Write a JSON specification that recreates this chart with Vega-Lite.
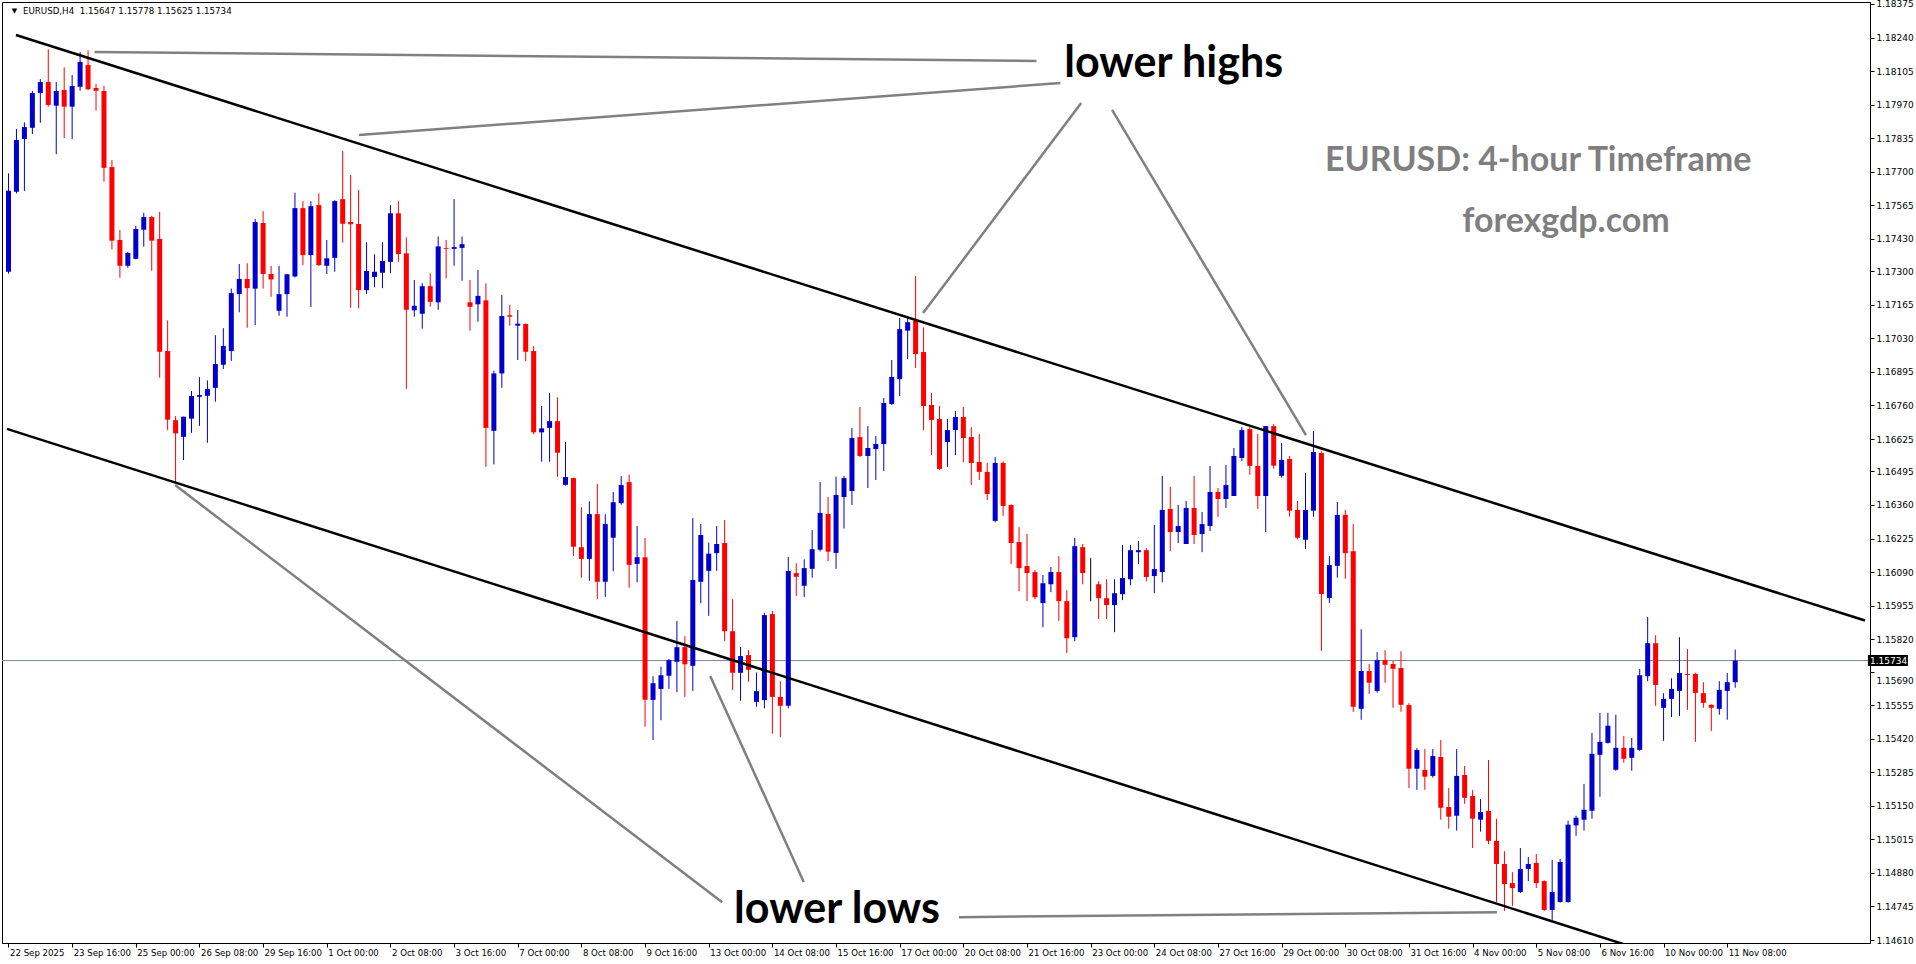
{
"$schema": "https://vega.github.io/schema/vega-lite/v6.json",
"width": 1868, "height": 941,
"autosize": {"type": "none"},
"padding": {"left": 2, "top": 2, "right": 46, "bottom": 21},
"background": "#ffffff",
"config": {"view": {"stroke": "#000000", "strokeWidth": 1}, "axis": {"labelOverlap": false, "labelBound": false, "labelFlush": false, "grid": false, "title": null, "tickCount": 60}},
"datasets": {
"candles": [
{"i":0,"o":1.17298,"h":1.17694,"l":1.17290,"c":1.17624},
{"i":1,"o":1.17620,"h":1.17872,"l":1.17613,"c":1.17828},
{"i":2,"o":1.17832,"h":1.17899,"l":1.17623,"c":1.17880},
{"i":3,"o":1.17877,"h":1.18025,"l":1.17852,"c":1.18017},
{"i":4,"o":1.18017,"h":1.18073,"l":1.17897,"c":1.18061},
{"i":5,"o":1.18061,"h":1.18193,"l":1.17962,"c":1.17969},
{"i":6,"o":1.17966,"h":1.18061,"l":1.17771,"c":1.18025},
{"i":7,"o":1.18029,"h":1.18120,"l":1.17836,"c":1.17962},
{"i":8,"o":1.17962,"h":1.18089,"l":1.17832,"c":1.18045},
{"i":9,"o":1.18042,"h":1.18181,"l":1.18026,"c":1.18142},
{"i":10,"o":1.18130,"h":1.18189,"l":1.18029,"c":1.18032},
{"i":11,"o":1.18037,"h":1.18053,"l":1.17946,"c":1.18026},
{"i":12,"o":1.18025,"h":1.18045,"l":1.17660,"c":1.17716},
{"i":13,"o":1.17719,"h":1.17747,"l":1.17388,"c":1.17423},
{"i":14,"o":1.17426,"h":1.17466,"l":1.17274,"c":1.17322},
{"i":15,"o":1.17322,"h":1.17378,"l":1.17314,"c":1.17373},
{"i":16,"o":1.17350,"h":1.17483,"l":1.17348,"c":1.17470},
{"i":17,"o":1.17467,"h":1.17535,"l":1.17399,"c":1.17518},
{"i":18,"o":1.17518,"h":1.17523,"l":1.17302,"c":1.17423},
{"i":19,"o":1.17430,"h":1.17539,"l":1.16872,"c":1.16976},
{"i":20,"o":1.16979,"h":1.17102,"l":1.16661,"c":1.16703},
{"i":21,"o":1.16701,"h":1.16717,"l":1.16448,"c":1.16648},
{"i":22,"o":1.16634,"h":1.16715,"l":1.16540,"c":1.16715},
{"i":23,"o":1.16707,"h":1.16818,"l":1.16650,"c":1.16798},
{"i":24,"o":1.16795,"h":1.16874,"l":1.16678,"c":1.16802},
{"i":25,"o":1.16799,"h":1.16861,"l":1.16610,"c":1.16827},
{"i":26,"o":1.16831,"h":1.17043,"l":1.16775,"c":1.16927},
{"i":27,"o":1.16924,"h":1.17071,"l":1.16907,"c":1.16999},
{"i":28,"o":1.16979,"h":1.17230,"l":1.16939,"c":1.17212},
{"i":29,"o":1.17208,"h":1.17329,"l":1.17135,"c":1.17269},
{"i":30,"o":1.17269,"h":1.17332,"l":1.17073,"c":1.17232},
{"i":31,"o":1.17230,"h":1.17510,"l":1.17084,"c":1.17498},
{"i":32,"o":1.17494,"h":1.17542,"l":1.17230,"c":1.17289},
{"i":33,"o":1.17289,"h":1.17322,"l":1.17197,"c":1.17267},
{"i":34,"o":1.17141,"h":1.17322,"l":1.17121,"c":1.17208},
{"i":35,"o":1.17208,"h":1.17288,"l":1.17117,"c":1.17288},
{"i":36,"o":1.17279,"h":1.17616,"l":1.17275,"c":1.17554},
{"i":37,"o":1.17554,"h":1.17582,"l":1.17325,"c":1.17365},
{"i":38,"o":1.17365,"h":1.17582,"l":1.17156,"c":1.17562},
{"i":39,"o":1.17566,"h":1.17613,"l":1.17321,"c":1.17325},
{"i":40,"o":1.17322,"h":1.17426,"l":1.17289,"c":1.17352},
{"i":41,"o":1.17354,"h":1.17586,"l":1.17298,"c":1.17582},
{"i":42,"o":1.17590,"h":1.17784,"l":1.17415,"c":1.17491},
{"i":43,"o":1.17498,"h":1.17687,"l":1.17153,"c":1.17489},
{"i":44,"o":1.17490,"h":1.17627,"l":1.17151,"c":1.17224},
{"i":45,"o":1.17224,"h":1.17417,"l":1.17209,"c":1.17301},
{"i":46,"o":1.17277,"h":1.17368,"l":1.17235,"c":1.17298},
{"i":47,"o":1.17294,"h":1.17417,"l":1.17232,"c":1.17341},
{"i":48,"o":1.17338,"h":1.17566,"l":1.17292,"c":1.17533},
{"i":49,"o":1.17533,"h":1.17582,"l":1.17338,"c":1.17369},
{"i":50,"o":1.17372,"h":1.17436,"l":1.16827,"c":1.17145},
{"i":51,"o":1.17143,"h":1.17265,"l":1.17117,"c":1.17161},
{"i":52,"o":1.17129,"h":1.17252,"l":1.17069,"c":1.17240},
{"i":53,"o":1.17240,"h":1.17292,"l":1.17157,"c":1.17177},
{"i":54,"o":1.17175,"h":1.17440,"l":1.17145,"c":1.17400},
{"i":55,"o":1.17393,"h":1.17426,"l":1.17271,"c":1.17390},
{"i":56,"o":1.17390,"h":1.17590,"l":1.17322,"c":1.17397},
{"i":57,"o":1.17394,"h":1.17440,"l":1.17262,"c":1.17409},
{"i":58,"o":1.17175,"h":1.17265,"l":1.17061,"c":1.17157},
{"i":59,"o":1.17167,"h":1.17305,"l":1.17097,"c":1.17201},
{"i":60,"o":1.17183,"h":1.17251,"l":1.16513,"c":1.16670},
{"i":61,"o":1.16658,"h":1.16900,"l":1.16523,"c":1.16889},
{"i":62,"o":1.16889,"h":1.17205,"l":1.16831,"c":1.17120},
{"i":63,"o":1.17123,"h":1.17164,"l":1.17081,"c":1.17117},
{"i":64,"o":1.17081,"h":1.17144,"l":1.16943,"c":1.17089},
{"i":65,"o":1.17088,"h":1.17090,"l":1.16939,"c":1.16976},
{"i":66,"o":1.16979,"h":1.16999,"l":1.16644,"c":1.16652},
{"i":67,"o":1.16652,"h":1.16758,"l":1.16534,"c":1.16668},
{"i":68,"o":1.16670,"h":1.16810,"l":1.16534,"c":1.16697},
{"i":69,"o":1.16697,"h":1.16793,"l":1.16473,"c":1.16570},
{"i":70,"o":1.16441,"h":1.16613,"l":1.16438,"c":1.16472},
{"i":71,"o":1.16468,"h":1.16470,"l":1.16155,"c":1.16192},
{"i":72,"o":1.16190,"h":1.16351,"l":1.16067,"c":1.16143},
{"i":73,"o":1.16143,"h":1.16375,"l":1.16055,"c":1.16323},
{"i":74,"o":1.16323,"h":1.16444,"l":1.15982,"c":1.16051},
{"i":75,"o":1.16051,"h":1.16323,"l":1.15990,"c":1.16283},
{"i":76,"o":1.16228,"h":1.16412,"l":1.16093,"c":1.16371},
{"i":77,"o":1.16367,"h":1.16476,"l":1.16361,"c":1.16440},
{"i":78,"o":1.16452,"h":1.16482,"l":1.16027,"c":1.16119},
{"i":79,"o":1.16123,"h":1.16275,"l":1.16049,"c":1.16150},
{"i":80,"o":1.16150,"h":1.16227,"l":1.15468,"c":1.15576},
{"i":81,"o":1.15576,"h":1.15671,"l":1.15415,"c":1.15643},
{"i":82,"o":1.15620,"h":1.15709,"l":1.15494,"c":1.15675},
{"i":83,"o":1.15673,"h":1.15740,"l":1.15620,"c":1.15736},
{"i":84,"o":1.15729,"h":1.15893,"l":1.15607,"c":1.15788},
{"i":85,"o":1.15788,"h":1.15832,"l":1.15588,"c":1.15719},
{"i":86,"o":1.15713,"h":1.16307,"l":1.15612,"c":1.16058},
{"i":87,"o":1.16051,"h":1.16283,"l":1.15965,"c":1.16239},
{"i":88,"o":1.16095,"h":1.16209,"l":1.15914,"c":1.16164},
{"i":89,"o":1.16166,"h":1.16275,"l":1.16095,"c":1.16203},
{"i":90,"o":1.16207,"h":1.16299,"l":1.15812,"c":1.15852},
{"i":91,"o":1.15852,"h":1.15981,"l":1.15615,"c":1.15685},
{"i":92,"o":1.15685,"h":1.15789,"l":1.15572,"c":1.15752},
{"i":93,"o":1.15756,"h":1.15776,"l":1.15649,"c":1.15697},
{"i":94,"o":1.15568,"h":1.15686,"l":1.15548,"c":1.15611},
{"i":95,"o":1.15575,"h":1.15926,"l":1.15542,"c":1.15917},
{"i":96,"o":1.15921,"h":1.15934,"l":1.15440,"c":1.15588},
{"i":97,"o":1.15588,"h":1.15651,"l":1.15426,"c":1.15552},
{"i":98,"o":1.15552,"h":1.16151,"l":1.15542,"c":1.16094},
{"i":99,"o":1.16086,"h":1.16125,"l":1.15994,"c":1.16071},
{"i":100,"o":1.16035,"h":1.16141,"l":1.15990,"c":1.16106},
{"i":101,"o":1.16103,"h":1.16259,"l":1.16067,"c":1.16182},
{"i":102,"o":1.16180,"h":1.16452,"l":1.16173,"c":1.16328},
{"i":103,"o":1.16324,"h":1.16392,"l":1.16134,"c":1.16172},
{"i":104,"o":1.16167,"h":1.16474,"l":1.16103,"c":1.16400},
{"i":105,"o":1.16392,"h":1.16477,"l":1.16265,"c":1.16468},
{"i":106,"o":1.16416,"h":1.16669,"l":1.16360,"c":1.16629},
{"i":107,"o":1.16633,"h":1.16754,"l":1.16553,"c":1.16557},
{"i":108,"o":1.16557,"h":1.16677,"l":1.16428,"c":1.16589},
{"i":109,"o":1.16585,"h":1.16637,"l":1.16460,"c":1.16605},
{"i":110,"o":1.16605,"h":1.16790,"l":1.16497,"c":1.16770},
{"i":111,"o":1.16766,"h":1.16943,"l":1.16762,"c":1.16875},
{"i":112,"o":1.16866,"h":1.17112,"l":1.16798,"c":1.17067},
{"i":113,"o":1.17061,"h":1.17120,"l":1.16947,"c":1.17095},
{"i":114,"o":1.17100,"h":1.17281,"l":1.16911,"c":1.16967},
{"i":115,"o":1.16975,"h":1.17074,"l":1.16661,"c":1.16758},
{"i":116,"o":1.16762,"h":1.16810,"l":1.16561,"c":1.16702},
{"i":117,"o":1.16706,"h":1.16758,"l":1.16501,"c":1.16505},
{"i":118,"o":1.16613,"h":1.16706,"l":1.16513,"c":1.16661},
{"i":119,"o":1.16661,"h":1.16738,"l":1.16561,"c":1.16714},
{"i":120,"o":1.16714,"h":1.16754,"l":1.16532,"c":1.16629},
{"i":121,"o":1.16633,"h":1.16673,"l":1.16440,"c":1.16529},
{"i":122,"o":1.16533,"h":1.16645,"l":1.16460,"c":1.16493},
{"i":123,"o":1.16493,"h":1.16529,"l":1.16380,"c":1.16404},
{"i":124,"o":1.16296,"h":1.16553,"l":1.16290,"c":1.16529},
{"i":125,"o":1.16529,"h":1.16535,"l":1.16316,"c":1.16356},
{"i":126,"o":1.16360,"h":1.16362,"l":1.16122,"c":1.16207},
{"i":127,"o":1.16211,"h":1.16271,"l":1.16013,"c":1.16106},
{"i":128,"o":1.16114,"h":1.16243,"l":1.15973,"c":1.16086},
{"i":129,"o":1.16090,"h":1.16098,"l":1.15981,"c":1.15989},
{"i":130,"o":1.15965,"h":1.16078,"l":1.15868,"c":1.16045},
{"i":131,"o":1.16041,"h":1.16110,"l":1.16009,"c":1.16090},
{"i":132,"o":1.16090,"h":1.16154,"l":1.15893,"c":1.15973},
{"i":133,"o":1.15973,"h":1.16017,"l":1.15764,"c":1.15824},
{"i":134,"o":1.15828,"h":1.16227,"l":1.15812,"c":1.16194},
{"i":135,"o":1.16190,"h":1.16203,"l":1.16041,"c":1.16086},
{"i":136,"o":1.16037,"h":1.16146,"l":1.15973,"c":1.16037},
{"i":137,"o":1.16041,"h":1.16053,"l":1.15901,"c":1.15985},
{"i":138,"o":1.15985,"h":1.16061,"l":1.15901,"c":1.15957},
{"i":139,"o":1.15957,"h":1.16061,"l":1.15848,"c":1.16005},
{"i":140,"o":1.16001,"h":1.16199,"l":1.15977,"c":1.16066},
{"i":141,"o":1.16061,"h":1.16199,"l":1.16037,"c":1.16178},
{"i":142,"o":1.16170,"h":1.16215,"l":1.16122,"c":1.16178},
{"i":143,"o":1.16178,"h":1.16186,"l":1.16053,"c":1.16070},
{"i":144,"o":1.16074,"h":1.16279,"l":1.16005,"c":1.16102},
{"i":145,"o":1.16090,"h":1.16477,"l":1.16049,"c":1.16340},
{"i":146,"o":1.16344,"h":1.16432,"l":1.16174,"c":1.16251},
{"i":147,"o":1.16251,"h":1.16360,"l":1.16207,"c":1.16275},
{"i":148,"o":1.16203,"h":1.16376,"l":1.16203,"c":1.16348},
{"i":149,"o":1.16348,"h":1.16477,"l":1.16203,"c":1.16239},
{"i":150,"o":1.16243,"h":1.16332,"l":1.16170,"c":1.16283},
{"i":151,"o":1.16275,"h":1.16517,"l":1.16255,"c":1.16412},
{"i":152,"o":1.16412,"h":1.16428,"l":1.16312,"c":1.16384},
{"i":153,"o":1.16384,"h":1.16521,"l":1.16348,"c":1.16440},
{"i":154,"o":1.16396,"h":1.16589,"l":1.16396,"c":1.16557},
{"i":155,"o":1.16549,"h":1.16673,"l":1.16537,"c":1.16661},
{"i":156,"o":1.16665,"h":1.16673,"l":1.16481,"c":1.16517},
{"i":157,"o":1.16517,"h":1.16645,"l":1.16344,"c":1.16396},
{"i":158,"o":1.16396,"h":1.16677,"l":1.16251,"c":1.16677},
{"i":159,"o":1.16677,"h":1.16685,"l":1.16506,"c":1.16518},
{"i":160,"o":1.16477,"h":1.16609,"l":1.16470,"c":1.16541},
{"i":161,"o":1.16545,"h":1.16557,"l":1.16313,"c":1.16337},
{"i":162,"o":1.16340,"h":1.16376,"l":1.16222,"c":1.16228},
{"i":163,"o":1.16220,"h":1.16489,"l":1.16183,"c":1.16340},
{"i":164,"o":1.16337,"h":1.16657,"l":1.16313,"c":1.16573},
{"i":165,"o":1.16569,"h":1.16575,"l":1.15773,"c":1.16002},
{"i":166,"o":1.15986,"h":1.16154,"l":1.15966,"c":1.16118},
{"i":167,"o":1.16115,"h":1.16372,"l":1.16067,"c":1.16320},
{"i":168,"o":1.16320,"h":1.16340,"l":1.16063,"c":1.16166},
{"i":169,"o":1.16174,"h":1.16283,"l":1.15528,"c":1.15548},
{"i":170,"o":1.15540,"h":1.15860,"l":1.15496,"c":1.15692},
{"i":171,"o":1.15692,"h":1.15720,"l":1.15600,"c":1.15645},
{"i":172,"o":1.15612,"h":1.15768,"l":1.15605,"c":1.15736},
{"i":173,"o":1.15736,"h":1.15776,"l":1.15645,"c":1.15717},
{"i":174,"o":1.15720,"h":1.15732,"l":1.15544,"c":1.15701},
{"i":175,"o":1.15704,"h":1.15772,"l":1.15528,"c":1.15556},
{"i":176,"o":1.15555,"h":1.15563,"l":1.15221,"c":1.15299},
{"i":177,"o":1.15299,"h":1.15382,"l":1.15214,"c":1.15374},
{"i":178,"o":1.15294,"h":1.15378,"l":1.15214,"c":1.15267},
{"i":179,"o":1.15270,"h":1.15378,"l":1.15263,"c":1.15350},
{"i":180,"o":1.15346,"h":1.15414,"l":1.15094,"c":1.15142},
{"i":181,"o":1.15145,"h":1.15221,"l":1.15058,"c":1.15106},
{"i":182,"o":1.15110,"h":1.15378,"l":1.15050,"c":1.15270},
{"i":183,"o":1.15274,"h":1.15310,"l":1.15158,"c":1.15182},
{"i":184,"o":1.15189,"h":1.15213,"l":1.14980,"c":1.15098},
{"i":185,"o":1.15094,"h":1.15177,"l":1.15046,"c":1.15125},
{"i":186,"o":1.15129,"h":1.15334,"l":1.14996,"c":1.15009},
{"i":187,"o":1.15009,"h":1.15098,"l":1.14763,"c":1.14916},
{"i":188,"o":1.14916,"h":1.14967,"l":1.14727,"c":1.14835},
{"i":189,"o":1.14839,"h":1.14883,"l":1.14747,"c":1.14819},
{"i":190,"o":1.14803,"h":1.14980,"l":1.14799,"c":1.14896},
{"i":191,"o":1.14896,"h":1.14944,"l":1.14847,"c":1.14916},
{"i":192,"o":1.14920,"h":1.14956,"l":1.14819,"c":1.14839},
{"i":193,"o":1.14847,"h":1.14850,"l":1.14727,"c":1.14731},
{"i":194,"o":1.14731,"h":1.14932,"l":1.14691,"c":1.14803},
{"i":195,"o":1.14763,"h":1.14936,"l":1.14760,"c":1.14924},
{"i":196,"o":1.14763,"h":1.15090,"l":1.14760,"c":1.15074},
{"i":197,"o":1.15071,"h":1.15110,"l":1.15029,"c":1.15102},
{"i":198,"o":1.15094,"h":1.15238,"l":1.15050,"c":1.15134},
{"i":199,"o":1.15130,"h":1.15443,"l":1.15098,"c":1.15359},
{"i":200,"o":1.15355,"h":1.15524,"l":1.15186,"c":1.15407},
{"i":201,"o":1.15403,"h":1.15524,"l":1.15400,"c":1.15472},
{"i":202,"o":1.15295,"h":1.15516,"l":1.15290,"c":1.15383},
{"i":203,"o":1.15383,"h":1.15431,"l":1.15323,"c":1.15339},
{"i":204,"o":1.15343,"h":1.15423,"l":1.15291,"c":1.15383},
{"i":205,"o":1.15375,"h":1.15700,"l":1.15371,"c":1.15675},
{"i":206,"o":1.15671,"h":1.15909,"l":1.15651,"c":1.15804},
{"i":207,"o":1.15804,"h":1.15836,"l":1.15552,"c":1.15636},
{"i":208,"o":1.15544,"h":1.15603,"l":1.15411,"c":1.15580},
{"i":209,"o":1.15580,"h":1.15663,"l":1.15507,"c":1.15620},
{"i":210,"o":1.15612,"h":1.15828,"l":1.15511,"c":1.15684},
{"i":211,"o":1.15680,"h":1.15780,"l":1.15536,"c":1.15676},
{"i":212,"o":1.15680,"h":1.15685,"l":1.15407,"c":1.15604},
{"i":213,"o":1.15603,"h":1.15647,"l":1.15544,"c":1.15564},
{"i":214,"o":1.15556,"h":1.15558,"l":1.15451,"c":1.15544},
{"i":215,"o":1.15540,"h":1.15651,"l":1.15516,"c":1.15616},
{"i":216,"o":1.15612,"h":1.15684,"l":1.15496,"c":1.15647},
{"i":217,"o":1.15647,"h":1.15778,"l":1.15625,"c":1.15734}
],
"trend": [
{"id":"upper","i":0.94,"p":1.18250},{"id":"upper","i":233.31,"p":1.15895},
{"id":"lower","i":-0.2,"p":1.16666},{"id":"lower","i":203.3,"p":1.14590}
],
"pointers": [
{"id":"h1","i":10.81,"p":1.18182},{"id":"h1","i":129.19,"p":1.18146},
{"id":"h2","i":44.06,"p":1.17848},{"id":"h2","i":132.19,"p":1.18057},
{"id":"h3","i":114.94,"p":1.17132},{"id":"h3","i":134.81,"p":1.17977},
{"id":"h4","i":138.69,"p":1.17949},{"id":"h4","i":163.06,"p":1.16641},
{"id":"l1","i":20.94,"p":1.16440},{"id":"l1","i":89.69,"p":1.14762},
{"id":"l2","i":88.19,"p":1.15672},{"id":"l2","i":99.94,"p":1.14843},
{"id":"l3","i":119.44,"p":1.14702},{"id":"l3","i":187.06,"p":1.14722}
],
"labels": [
{"t":"lower highs","i":132.69,"p":1.18081},
{"t":"lower lows","i":91.19,"p":1.14678}
],
"brand": [
{"t":"EURUSD: 4-hour Timeframe","i":165.44,"p":1.17703},
{"t":"forexgdp.com","i":182.69,"p":1.17458}
],
"header": [
{"t":"EURUSD,H4\u00a0\u00a01.15647 1.15778 1.15625 1.15734","i":1.81,"p":1.18335}
],
"marker": [{"t":"▼","i":0.75,"p":1.18340}],
"last": [{"price":1.15734}]
},
"layer": [
{
"data": {"name": "last"},
"mark": {"type": "rule", "color": "#778899", "strokeWidth": 1},
"encoding": {
"y": {"field": "price", "type": "quantitative"}
}
},
{
"data": {"name": "candles"},
"mark": {"type": "rule", "strokeWidth": 1},
"encoding": {
"x": {"field": "i", "type": "quantitative", "scale": {"domain": [-0.1875, 233.3125], "nice": false, "zero": false},
"axis": {"title": null, "grid": false, "tickCount": 60, "values": [0,8,16,24,32,40,48,56,64,72,80,88,96,104,112,120,128,136,144,152,160,168,176,184,192,200,208,216],
"labelExpr": "['22 Sep 2025','23 Sep 16:00','25 Sep 00:00','26 Sep 08:00','29 Sep 16:00','1 Oct 00:00','2 Oct 08:00','3 Oct 16:00','7 Oct 00:00','8 Oct 08:00','9 Oct 16:00','13 Oct 00:00','14 Oct 08:00','15 Oct 16:00','17 Oct 00:00','20 Oct 08:00','21 Oct 16:00','23 Oct 00:00','24 Oct 08:00','27 Oct 16:00','29 Oct 00:00','30 Oct 08:00','31 Oct 16:00','4 Nov 00:00','5 Nov 08:00','6 Nov 16:00','10 Nov 00:00','11 Nov 08:00'][round(datum.value/8)]",
"tickSize": 4, "tickColor": "#000000", "domainColor": "#000000", "labelColor": "#000000",
"labelFont": "DejaVu Sans", "labelFontSize": 8.6, "labelPadding": 1, "labelAlign": "left", "labelOffset": 1,
"labelOverlap": false, "labelBound": false, "labelFlush": false}},
"y": {"field": "l", "type": "quantitative", "scale": {"domain": [1.14598, 1.18383], "nice": false, "zero": false},
"axis": {"orient": "right", "title": null, "grid": false, "tickCount": 60,
"values": [1.18375,1.1824,1.18105,1.1797,1.17835,1.177,1.17565,1.1743,1.173,1.17165,1.1703,1.16895,1.1676,1.16625,1.16495,1.1636,1.16225,1.1609,1.15955,1.1582,1.1569,1.15555,1.1542,1.15285,1.1515,1.15015,1.1488,1.14745,1.1461],
"format": ".5f",
"tickSize": 4, "tickColor": "#000000", "domainColor": "#000000", "labelColor": "#000000",
"labelFont": "DejaVu Sans", "labelFontSize": 9, "labelPadding": 2, "labelAlign": "left", "labelBaseline": "middle",
"labelOffset": {"condition": {"test": "abs(datum.value - 1.1569) < 0.000001", "value": 9}, "value": 0},
"labelOverlap": false, "labelBound": false, "labelFlush": false}},
"y2": {"field": "h"},
"color": {"condition": [{"test": "datum.c > datum.o", "value": "#0000CC"}, {"test": "datum.c == datum.o", "value": "#000000"}], "value": "#FF0000"}
}
},
{
"data": {"name": "candles"},
"mark": {"type": "bar", "size": 5},
"encoding": {
"x": {"field": "i", "type": "quantitative"},
"y": {"field": "o", "type": "quantitative"},
"y2": {"field": "c"},
"color": {"condition": [{"test": "datum.c > datum.o", "value": "#0000CC"}, {"test": "datum.c == datum.o", "value": "#000000"}], "value": "#FF0000"}
}
},
{
"data": {"name": "trend"},
"mark": {"type": "line", "color": "#000000", "strokeWidth": 2.5, "clip": true},
"encoding": {
"x": {"field": "i", "type": "quantitative"},
"y": {"field": "p", "type": "quantitative"},
"detail": {"field": "id"}
}
},
{
"data": {"name": "pointers"},
"mark": {"type": "line", "color": "#808080", "strokeWidth": 2.5, "clip": true},
"encoding": {
"x": {"field": "i", "type": "quantitative"},
"y": {"field": "p", "type": "quantitative"},
"detail": {"field": "id"}
}
},
{
"data": {"name": "labels"},
"mark": {"type": "text", "font": "Lato", "fontWeight": "bold", "fontSize": 43, "align": "left", "baseline": "alphabetic", "color": "#000000"},
"encoding": {
"x": {"field": "i", "type": "quantitative"},
"y": {"field": "p", "type": "quantitative"},
"text": {"field": "t"}
}
},
{
"data": {"name": "brand"},
"mark": {"type": "text", "font": "Lato", "fontWeight": "bold", "fontSize": 34, "align": "left", "baseline": "alphabetic", "color": "#7F7F7F"},
"encoding": {
"x": {"field": "i", "type": "quantitative"},
"y": {"field": "p", "type": "quantitative"},
"text": {"field": "t"}
}
},
{
"data": {"name": "header"},
"mark": {"type": "text", "font": "DejaVu Sans", "fontSize": 8.7, "align": "left", "baseline": "alphabetic", "color": "#000000"},
"encoding": {
"x": {"field": "i", "type": "quantitative"},
"y": {"field": "p", "type": "quantitative"},
"text": {"field": "t"}
}
},
{
"data": {"name": "marker"},
"mark": {"type": "text", "font": "DejaVu Sans", "fontSize": 7, "align": "center", "baseline": "alphabetic", "color": "#000000"},
"encoding": {
"x": {"field": "i", "type": "quantitative"},
"y": {"field": "p", "type": "quantitative"},
"text": {"field": "t"}
}
},
{
"data": {"name": "last"},
"mark": {"type": "tick", "orient": "horizontal", "color": "#000000", "size": 40, "thickness": 11, "opacity": 1},
"encoding": {
"x": {"datum": 236.19, "type": "quantitative"},
"y": {"field": "price", "type": "quantitative"}
}
},
{
"data": {"name": "last"},
"mark": {"type": "text", "font": "DejaVu Sans", "fontSize": 9, "align": "left", "baseline": "middle", "color": "#FFFFFF"},
"encoding": {
"x": {"datum": 233.94, "type": "quantitative"},
"y": {"field": "price", "type": "quantitative"},
"text": {"field": "price", "type": "quantitative", "format": ".5f"}
}
}
]
}
